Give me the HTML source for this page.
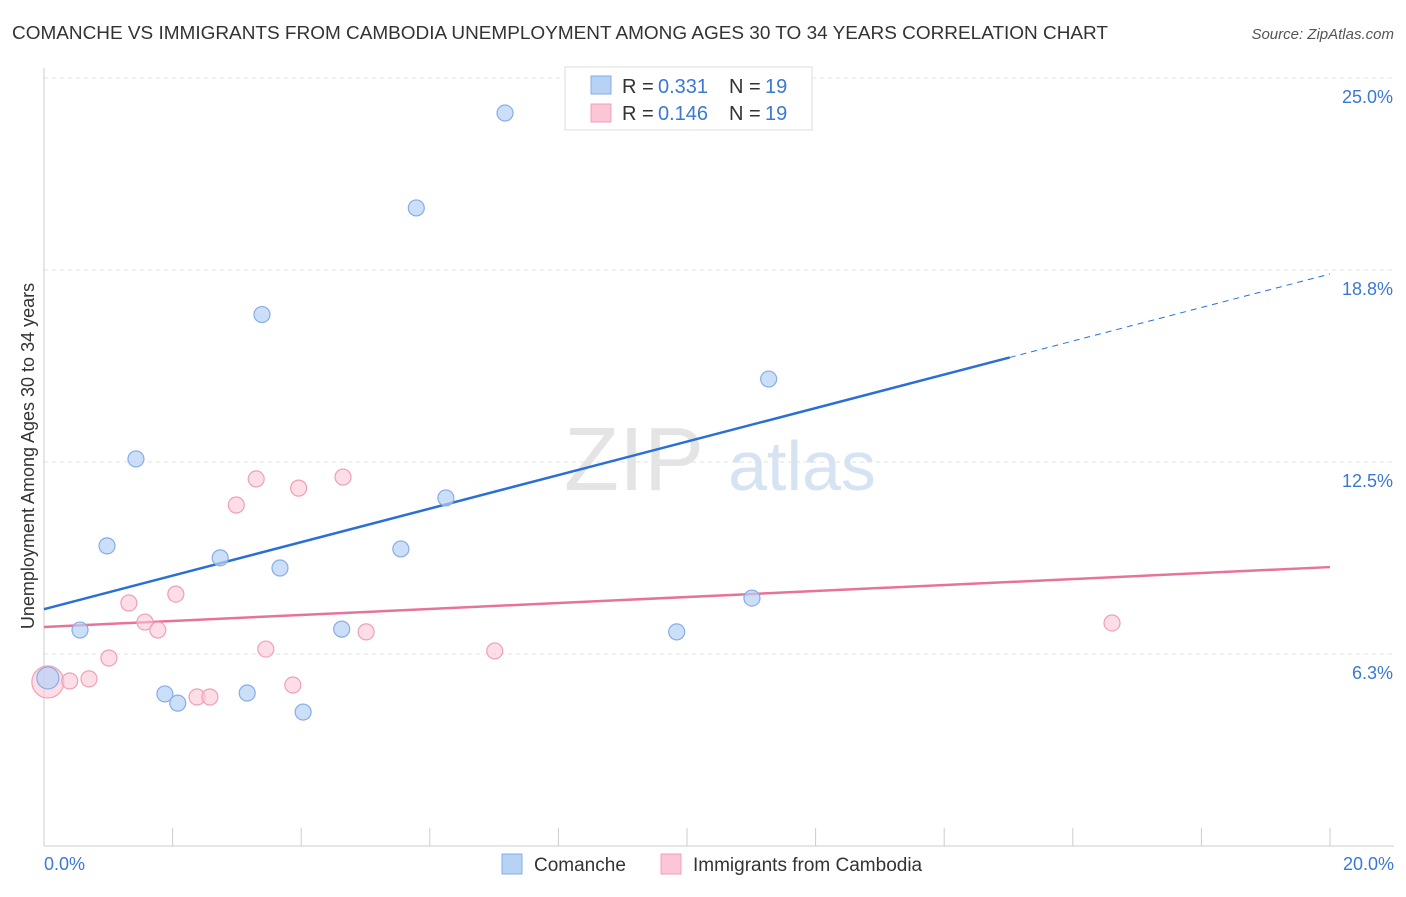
<!DOCTYPE html>
<html><head><meta charset="utf-8"><style>
body{margin:0;background:#fff;font-family:"Liberation Sans",sans-serif;}
svg text{font-family:"Liberation Sans",sans-serif;}
</style></head><body>
<svg id="chart" width="1406" height="892" xmlns="http://www.w3.org/2000/svg">
<text x="12" y="39" font-size="18" fill="#333" textLength="1096" lengthAdjust="spacingAndGlyphs">COMANCHE VS IMMIGRANTS FROM CAMBODIA UNEMPLOYMENT AMONG AGES 30 TO 34 YEARS CORRELATION CHART</text>
<text x="1394" y="39" font-size="15" fill="#555" font-style="italic" text-anchor="end">Source: ZipAtlas.com</text>
<text x="634" y="490" font-size="90" fill="#e4e4e4" font-family="Liberation Serif" text-anchor="middle">ZIP</text>
<text x="802" y="490" font-size="70" fill="#d6e3f3" text-anchor="middle">atlas</text>
<g id="grid"></g><g id="axes"></g><g id="lines"></g><g id="pts"></g>
<text transform="translate(34,456) rotate(-90)" font-size="18" fill="#333" text-anchor="middle">Unemployment Among Ages 30 to 34 years</text>
<text x="44" y="870" font-size="18" fill="#3b78d6">0.0%</text>
<text x="1394" y="870" font-size="18" fill="#3b78d6" text-anchor="end">20.0%</text>
<g>
<rect x="565" y="67" width="247" height="63" fill="#fff" stroke="#ddd"/>
<rect x="591" y="76" width="20" height="18" fill="#b7d2f5" stroke="#86ade6"/>
<rect x="591" y="104" width="20" height="18" fill="#fcc6d6" stroke="#eea0b8"/>
<text x="622" y="93" font-size="20" fill="#333">R =</text>
<text x="658" y="93" font-size="20" fill="#3b78d6">0.331</text>
<text x="729" y="93" font-size="20" fill="#333">N =</text>
<text x="765" y="93" font-size="20" fill="#3b78d6">19</text>
<text x="622" y="120" font-size="20" fill="#333">R =</text>
<text x="658" y="120" font-size="20" fill="#3b78d6">0.146</text>
<text x="729" y="120" font-size="20" fill="#333">N =</text>
<text x="765" y="120" font-size="20" fill="#3b78d6">19</text>
</g>
<g>
<rect x="502" y="854" width="20" height="20" fill="#b7d2f5" stroke="#86ade6"/>
<text x="534" y="871" font-size="19" fill="#333">Comanche</text>
<rect x="661" y="854" width="20" height="20" fill="#fcc6d6" stroke="#eea0b8"/>
<text x="693" y="871" font-size="19" fill="#333">Immigrants from Cambodia</text>
</g>
</svg>
<script>
const yTicks=[6.25,12.5,18.75,25];
const yTickLabels=["6.3%","12.5%","18.8%","25.0%"];
const comancheX=[0.06,0.56,0.98,1.43,1.88,2.08,2.74,3.16,3.39,3.67,4.03,4.63,5.55,5.79,6.25,7.17,9.84,11.01,11.27];
const comancheY=[5.47,7.03,9.77,12.6,4.95,4.65,9.38,4.98,17.3,9.05,4.36,7.06,9.67,20.77,11.33,23.86,6.97,8.07,15.2];
const cambodiaX=[0.06,0.40,0.70,1.01,1.32,1.57,1.77,2.05,2.38,2.58,2.99,3.30,3.45,3.87,3.96,4.65,5.01,7.01,16.61];
const cambodiaY=[5.34,5.37,5.44,6.12,7.91,7.29,7.03,8.2,4.85,4.85,11.1,11.95,6.41,5.24,11.65,12.01,6.97,6.35,7.26];
const comancheTrend=[7.71,18.62];
const cambodiaTrend=[7.13,9.08];
const solidEnd=15.02;
const NS="http://www.w3.org/2000/svg";
const xs=v=>44+v/20*1286, ys=v=>846-v/25*768;
function mk(t,a,p){const e=document.createElementNS(NS,t);for(const k in a)e.setAttribute(k,a[k]);document.getElementById(p).appendChild(e);return e;}
yTicks.forEach((t,i)=>{
 const g=mk('line',{x1:44,x2:1394,y1:ys(t),y2:ys(t),stroke:'#e2e2e2','stroke-dasharray':'4,4'},'grid');
 
 
 const l=mk('text',{x:1393,y:ys(t)+25,'font-size':18,fill:'#3b78d6','text-anchor':'end'},'grid');
 l.textContent=yTickLabels[i];
 
 
});
const ax=mk('line',{x1:44,x2:44,y1:68,y2:846,stroke:'#ccc'},'axes');


const bx=mk('line',{x1:44,x2:1394,y1:846,y2:846,stroke:'#ccc'},'axes');


for(let i=1;i<=10;i++){const v=i*2;
 const t=mk('line',{x1:xs(v),x2:xs(v),y1:828,y2:846,stroke:'#ccc'},'axes');
 
 }
const ty=(tr,v)=>tr[0]+(tr[1]-tr[0])*v/20;
const b1=mk('line',{x1:xs(0),y1:ys(ty(comancheTrend,0)),x2:xs(solidEnd),y2:ys(ty(comancheTrend,solidEnd)),stroke:'#2b6fd6','stroke-width':2.5},'lines');


const b2=mk('line',{x1:xs(solidEnd),y1:ys(ty(comancheTrend,solidEnd)),x2:xs(20),y2:ys(ty(comancheTrend,20)),stroke:'#2b6fd6','stroke-width':1,'stroke-dasharray':'6,5'},'lines');


const p1=mk('line',{x1:xs(0),y1:ys(cambodiaTrend[0]),x2:xs(20),y2:ys(cambodiaTrend[1]),stroke:'#e8739a','stroke-width':2.5},'lines');


cambodiaX.forEach((x,i)=>{
 const c=mk('circle',{cx:xs(x),cy:ys(cambodiaY[i]),r:i==0?16:8,fill:'#fcc6d6','fill-opacity':0.6,stroke:'#eea0b8','stroke-width':1.2},'pts');
 
 
});
comancheX.forEach((x,i)=>{
 const c=mk('circle',{cx:xs(x),cy:ys(comancheY[i]),r:i==0?11:8,fill:'#b7d2f5','fill-opacity':0.7,stroke:'#86ade6','stroke-width':1.2},'pts');
 
 
});
</script>
</body></html>
